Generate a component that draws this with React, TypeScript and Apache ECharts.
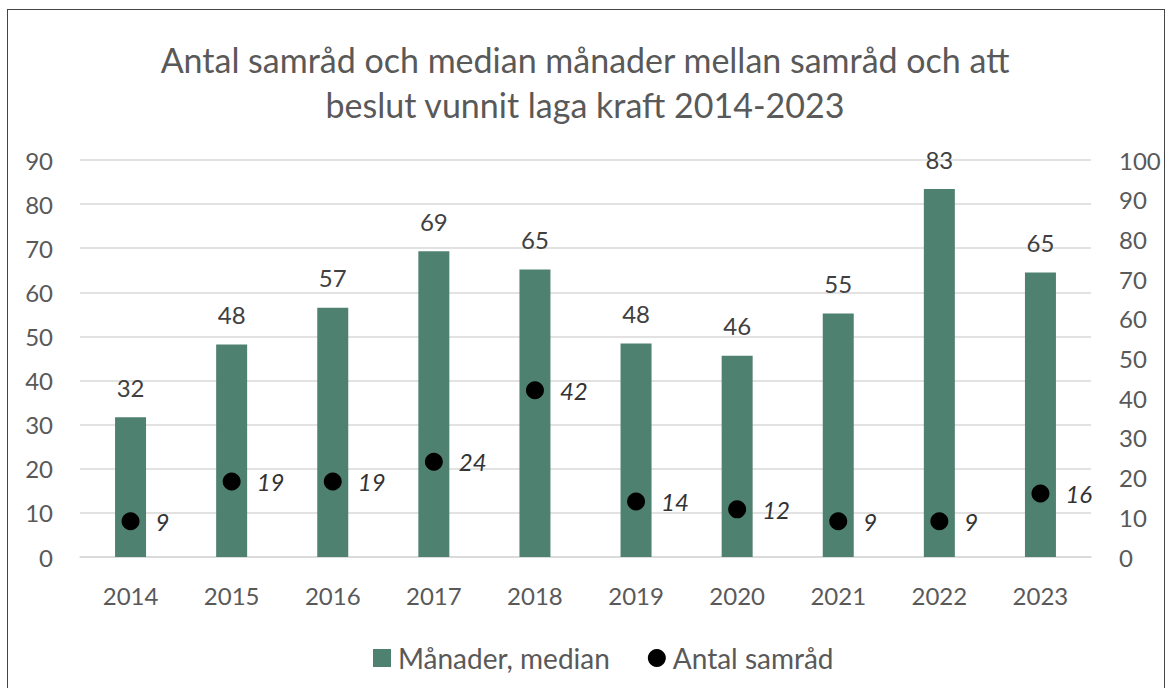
import React, { useEffect, useRef } from "react";
import * as echarts from "echarts";

const years = ["2014", "2015", "2016", "2017", "2018", "2019", "2020", "2021", "2022", "2023"];
const monthsMedian = [31.7, 48.2, 56.5, 69.3, 65.2, 48.4, 45.6, 55.2, 83.4, 64.5];
const consultations = [9, 19, 19, 24, 42, 14, 12, 9, 9, 16];
const titleText = "Antal samråd och median månader mellan samråd och att\nbeslut vunnit laga kraft 2014-2023";
const barName = "Månader, median";
const dotName = "Antal samråd";

const FONT = "Lato, 'Open Sans', sans-serif";

export default function App() {
  const ref = useRef<HTMLDivElement>(null);
  useEffect(() => {
    if (!ref.current) return;
    const chart = echarts.init(ref.current, undefined, { renderer: "svg" });
    chart.setOption({
      animation: false,
      backgroundColor: "#ffffff",
      textStyle: { fontFamily: FONT },
      title: {
        text: titleText,
        left: "center",
        top: 32,
        textStyle: { fontFamily: FONT, fontSize: 34, fontWeight: "normal", color: "#595959", lineHeight: 45 },
      },
      legend: {
        bottom: 11,
        left: 368,
        itemWidth: 18,
        itemHeight: 18,
        itemGap: 38,
        textStyle: { fontFamily: FONT, fontSize: 28, color: "#595959", padding: [0, 0, 0, 2] },
        data: [
          { name: barName, icon: "rect" },
          { name: dotName, icon: "circle" },
        ],
      },
      grid: { left: 80, right: 79, top: 160, bottom: 131, containLabel: false },
      xAxis: {
        type: "category",
        data: years,
        axisTick: { show: false },
        axisLine: { lineStyle: { color: "#d9d9d9", width: 1.5 } },
        axisLabel: { fontFamily: FONT, fontSize: 24, color: "#595959", margin: 26 },
      },
      yAxis: [
        {
          type: "value",
          min: 0,
          max: 90,
          interval: 10,
          axisLine: { show: false },
          axisTick: { show: false },
          splitLine: { lineStyle: { color: "#d9d9d9", width: 1.5 } },
          axisLabel: { fontFamily: FONT, fontSize: 24, color: "#595959", margin: 27 },
        },
        {
          type: "value",
          min: 0,
          max: 100,
          interval: 10,
          axisLine: { show: false },
          axisTick: { show: false },
          splitLine: { show: false },
          axisLabel: { fontFamily: FONT, fontSize: 24, color: "#595959", margin: 28 },
        },
      ],
      series: [
        {
          name: barName,
          type: "bar",
          yAxisIndex: 0,
          data: monthsMedian,
          barWidth: 31,
          itemStyle: { color: "#4f8170" },
          label: {
            show: true,
            position: "top",
            distance: 18,
            fontFamily: FONT,
            fontSize: 24,
            color: "#404040",
            formatter: (p: any) => String(Math.round(p.value)),
          },
        },
        {
          name: dotName,
          type: "scatter",
          yAxisIndex: 1,
          data: consultations,
          symbol: "circle",
          symbolSize: 18,
          itemStyle: { color: "#000000", opacity: 1 },
          label: {
            show: true,
            position: "right",
            distance: 16,
            fontFamily: FONT,
            fontSize: 24,
            fontStyle: "italic",
            color: "#333333",
          },
        },
      ],
    });
    return () => chart.dispose();
  }, []);

  return (
    <div style={{ position: "fixed", left: 0, top: 0, width: 1170, height: 688, background: "#fff" }}>
      <div ref={ref} style={{ position: "absolute", left: 0, top: 0, width: 1170, height: 688 }} />
      <div
        style={{
          position: "absolute",
          left: 7,
          top: 9,
          width: 1158,
          height: 700,
          border: "1.5px solid #444",
          pointerEvents: "none",
          boxSizing: "border-box",
        }}
      />
    </div>
  );
}
